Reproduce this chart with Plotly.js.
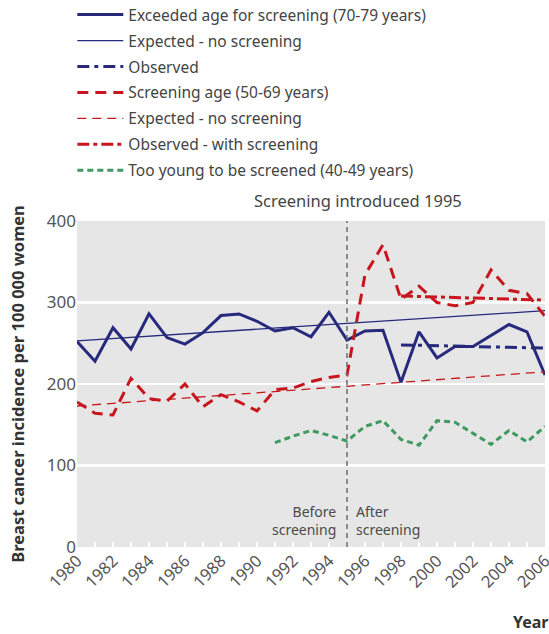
<!DOCTYPE html>
<html>
<head>
<meta charset="utf-8">
<script src="https://cdn.plot.ly/plotly-3.0.1.min.js"></script>
<style>html,body{margin:0;padding:0;background:#fff;}#chart{width:549px;height:634px;}</style>
</head>
<body>
<div id="chart"></div>
<script>
// ---- data ----
var years = [1980,1981,1982,1983,1984,1985,1986,1987,1988,1989,1990,1991,1992,1993,1994,1995,1996,1997,1998,1999,2000,2001,2002,2003,2004,2005,2006];
var exceededAge = [252,228,269,243,286,257,249,263,284,286,277,265,269,258,288,254,265,266,202,264,232,246,246,260,273,264,211];
var exceededExpectedYears = [1980,2006];
var exceededExpected = [253,290];
var exceededObservedYears = [1998,2006];
var exceededObserved = [248,244];
var screeningAge = [178,164,162,207,182,179,200,172,187,178,167,193,195,203,208,211,334,371,304,320,300,296,300,340,315,311,283];
var screeningExpectedYears = [1980,2006];
var screeningExpected = [173,215];
var screeningObservedYears = [1998,2006];
var screeningObserved = [308,303];
var youngYears = [1991,1992,1993,1994,1995,1996,1997,1998,1999,2000,2001,2002,2003,2004,2005,2006];
var tooYoung = [128,136,143,137,130,148,155,132,125,155,153,140,126,143,129,148];
var xTickVals = years;
var xTickText = ["1980","","1982","","1984","","1986","","1988","","1990","","1992","","1994","","1996","","1998","","2000","","2002","","2004","","2006"];
var yTickVals = [0,100,200,300,400];

var blue = '#272a7c', red = '#c8161e', green = '#3f9a62';
var FONT = 'Noto Sans, Open Sans, sans-serif';

var traces = [
  {x: years, y: exceededAge, name: 'Exceeded age for screening (70-79 years)', mode: 'lines', line: {color: blue, width: 3}},
  {x: exceededExpectedYears, y: exceededExpected, name: 'Expected - no screening', mode: 'lines', line: {color: blue, width: 1.3}},
  {x: exceededObservedYears, y: exceededObserved, name: 'Observed', mode: 'lines', line: {color: blue, width: 3, dash: '12px,5px,4px,5px'}},
  {x: years, y: screeningAge, name: 'Screening age (50-69 years)', mode: 'lines', line: {color: red, width: 3, dash: '11px,7px'}},
  {x: screeningExpectedYears, y: screeningExpected, name: 'Expected - no screening', mode: 'lines', line: {color: red, width: 1.3, dash: '9px,6px'}},
  {x: screeningObservedYears, y: screeningObserved, name: 'Observed - with screening', mode: 'lines', line: {color: red, width: 3, dash: '12px,4px,4px,4px'}},
  {x: youngYears, y: tooYoung, name: 'Too young to be screened (40-49 years)', mode: 'lines', line: {color: green, width: 3, dash: '6px,4px'}}
];

var layout = {
  width: 549, height: 634,
  margin: {l: 77, r: 4, t: 221, b: 87, pad: 0, autoexpand: false},
  paper_bgcolor: '#ffffff',
  plot_bgcolor: '#e6e6e6',
  font: {family: FONT, color: '#555555', size: 15},
  showlegend: true,
  legend: {x: -0.01, xanchor: 'left', y: 1.684, yanchor: 'top', bgcolor: 'rgba(0,0,0,0)',
           font: {family: FONT, size: 15.5, color: '#444444'}, tracegroupgap: 2.8, itemwidth: 46},
  xaxis: {range: [1980, 2006], tickvals: xTickVals, ticktext: xTickText, tickangle: -45,
          ticks: 'inside', ticklen: 5, tickcolor: '#ffffff', tickwidth: 1.5,
          ticklabeloverflow: 'allow', automargin: false,
          showgrid: false, zeroline: false, showline: false,
          tickfont: {family: FONT, size: 16.5, color: '#555555'}},
  yaxis: {range: [0, 400], tickvals: yTickVals, ticks: '', showgrid: true, gridcolor: '#ffffff', gridwidth: 2.5,
          zeroline: false, showline: false, automargin: false,
          tickfont: {family: FONT, size: 17, color: '#555555'},
          title: {text: 'Breast cancer incidence per 100 000 women', font: {family: FONT, size: 16.5, color: '#333333', weight: 'bold'}, standoff: 18}},
  shapes: [
    {type: 'line', xref: 'x', yref: 'paper', x0: 1995, x1: 1995, y0: 0, y1: 1,
     line: {color: '#6b6b6b', width: 1.5, dash: '5px,4px'}}
  ],
  annotations: [
    {xref: 'x', yref: 'paper', x: 1995.6, y: 1.0, yshift: 7, yanchor: 'bottom', xanchor: 'center', showarrow: false,
     text: 'Screening introduced 1995', font: {family: FONT, size: 16.5, color: '#444444'}},
    {xref: 'x', yref: 'paper', x: 1995, xshift: -9, y: 0, yshift: 6, xanchor: 'right', yanchor: 'bottom', align: 'right', showarrow: false,
     text: 'Before<br>screening', font: {family: FONT, size: 14, color: '#4a4a4a'}},
    {xref: 'x', yref: 'paper', x: 1995, xshift: 7, y: 0, yshift: 6, xanchor: 'left', yanchor: 'bottom', align: 'left', showarrow: false,
     text: 'After<br>screening', font: {family: FONT, size: 14, color: '#4a4a4a'}},
    {xref: 'paper', yref: 'paper', x: 1.012, y: -0.19, xanchor: 'right', yanchor: 'top', showarrow: false,
     text: '<b>Year</b>', font: {family: FONT, size: 16, color: '#333333'}}
  ]
};

traces.forEach(function(t, i){ t.legendgroup = 'g' + i; t.hoverinfo = 'skip'; });

Plotly.newPlot('chart', traces, layout, {displayModeBar: false, staticPlot: true});
</script>
</body>
</html>
